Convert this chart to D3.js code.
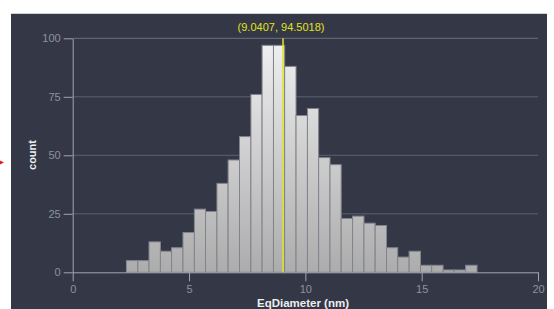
<!DOCTYPE html>
<html>
<head>
<meta charset="utf-8">
<script src="https://cdn.jsdelivr.net/npm/d3@7"></script>
<style>
  body { margin: 0; background: #fff; }
  svg { display: block; font-family: "Liberation Sans", Arial, sans-serif; }
  .tick text { fill: #8e929c; font-size: 11px; }
  .tick line, .domain { stroke: #a2a5ad; }
</style>
</head>
<body>
<div id="chart"></div>
<script>
// histogram bin edges (nm) and counts per bin
var binEdges = [2.31, 2.80, 3.28, 3.77, 4.25, 4.74, 5.23, 5.71, 6.20, 6.68, 7.17,
                7.66, 8.14, 8.63, 9.11, 9.60, 10.09, 10.57, 11.06, 11.54, 12.03,
                12.52, 13.00, 13.49, 13.97, 14.46, 14.95, 15.43, 15.92, 16.40, 16.89, 17.38];
var counts = [5, 5, 13, 9, 10.5, 17, 27, 26, 38, 48, 58, 76, 97, 97, 88, 67,
              70, 49, 46, 23, 24, 21, 20, 10.5, 6.5, 9, 3, 3, 1, 1, 3];
var xTicks = [0, 5, 10, 15, 20];
var yTicks = [0, 25, 50, 75, 100];
var cursor = [9.0407, 94.5018];

var W = 554, H = 309;

var svg = d3.select("#chart").append("svg")
    .attr("width", W)
    .attr("height", H);

// dark panel
svg.append("rect")
    .attr("x", 11).attr("y", 13)
    .attr("width", 536).attr("height", H - 13)
    .attr("fill", "#343846");
svg.append("line")
    .attr("x1", 11).attr("x2", 547).attr("y1", 13.5).attr("y2", 13.5)
    .attr("stroke", "#cfd0d3");

// little red marker at the left edge
svg.append("path")
    .attr("d", "M0,160.5 L4,162.5 L0,164.5 Z")
    .attr("fill", "#e02020");

var x = d3.scaleLinear().domain([0, 20]).range([72.7, 538]);
var y = d3.scaleLinear().domain([0, 100]).range([272.3, 38.3]);

// gradient for bars, fixed to the plot area
var grad = svg.append("defs").append("linearGradient")
    .attr("id", "barfill")
    .attr("gradientUnits", "userSpaceOnUse")
    .attr("x1", 0).attr("x2", 0)
    .attr("y1", y(100)).attr("y2", y(0));
grad.append("stop").attr("offset", "0%").attr("stop-color", "#f0f0f0");
grad.append("stop").attr("offset", "100%").attr("stop-color", "#acacac");

// gridlines
svg.append("g").selectAll("line")
    .data(yTicks.filter(function(d) { return d > 0; }))
    .enter().append("line")
    .attr("x1", x(0)).attr("x2", x(20))
    .attr("y1", function(d) { return y(d); })
    .attr("y2", function(d) { return y(d); })
    .attr("stroke", function(d) { return d === 100 ? "#6c707c" : "#5c6070"; });

// bars
svg.append("g").selectAll("rect")
    .data(counts)
    .enter().append("rect")
    .attr("x", function(d, i) { return x(binEdges[i]); })
    .attr("width", function(d, i) { return x(binEdges[i + 1]) - x(binEdges[i]); })
    .attr("y", function(d) { return y(d); })
    .attr("height", function(d) { return y(0) - y(d); })
    .attr("fill", "url(#barfill)")
    .attr("stroke", "#80848e")
    .attr("stroke-width", 1);

// axes
var yAxis = d3.axisLeft(y).tickValues(yTicks).tickSize(9).tickSizeOuter(0).tickPadding(3);
svg.append("g")
    .attr("transform", "translate(" + x(0) + ",0)")
    .call(yAxis);

var xAxis = d3.axisBottom(x).tickValues(xTicks).tickSize(9).tickSizeOuter(0).tickPadding(4);
svg.append("g")
    .attr("transform", "translate(0," + y(0) + ")")
    .call(xAxis);

svg.selectAll(".tick text").attr("font-family", null).attr("font-size", null);

// axis titles
svg.append("text")
    .attr("transform", "translate(36,155) rotate(-90)")
    .attr("text-anchor", "middle")
    .attr("font-weight", "bold")
    .attr("font-size", 11)
    .attr("fill", "#eceef2")
    .text("count");

svg.append("text")
    .attr("x", 303).attr("y", 306.5)
    .attr("text-anchor", "middle")
    .attr("font-weight", "bold")
    .attr("font-size", 11.5)
    .attr("fill", "#eceef2")
    .text("EqDiameter (nm)");

// cursor line and readout
svg.append("line")
    .attr("x1", x(cursor[0])).attr("x2", x(cursor[0]))
    .attr("y1", y(100)).attr("y2", y(0))
    .attr("stroke", "#e4e41c")
    .attr("stroke-width", 1.5);

svg.append("text")
    .attr("x", x(cursor[0]) - 2).attr("y", 31)
    .attr("text-anchor", "middle")
    .attr("font-size", 11)
    .attr("fill", "#e2e21e")
    .text("(" + cursor[0] + ", " + cursor[1] + ")");
</script>
</body>
</html>
